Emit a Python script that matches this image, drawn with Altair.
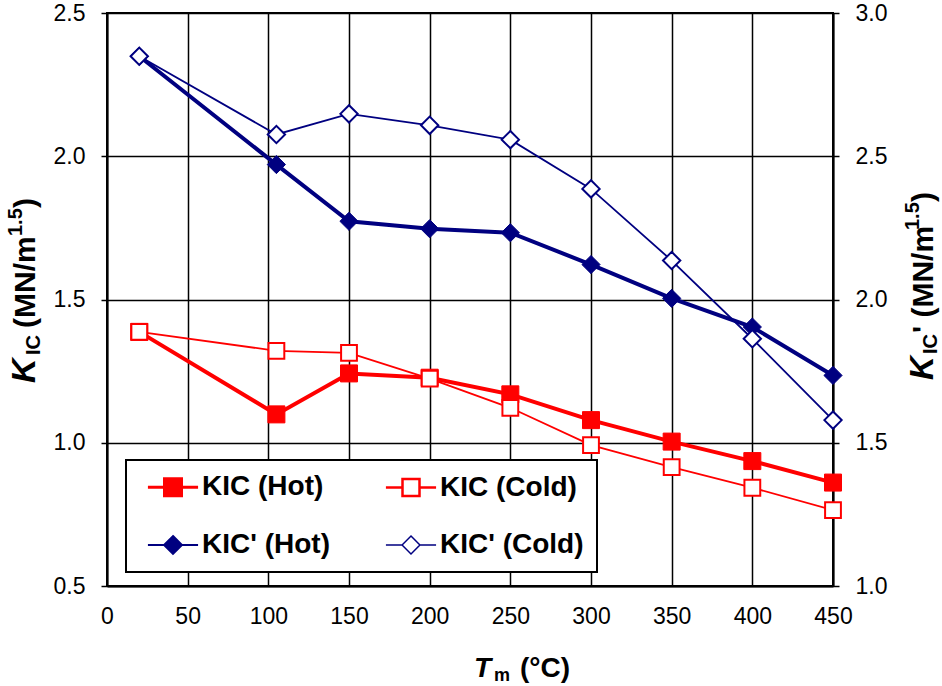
import altair as alt
import pandas as pd

# ---- data ----
temps = [20, 105, 150, 200, 250, 300, 350, 400, 450]
kic_hot = [1.387, 1.099, 1.242, 1.227, 1.169, 1.079, 1.004, 0.936, 0.861]
kic_cold = [1.387, 1.321, 1.314, 1.224, 1.122, 0.992, 0.915, 0.843, 0.765]
kicp_hot = [2.849, 2.471, 2.273, 2.247, 2.233, 2.122, 2.004, 1.904, 1.735]
kicp_cold = [2.849, 2.576, 2.648, 2.608, 2.558, 2.386, 2.136, 1.863, 1.579]

series_names = ["KIC (Hot)", "KIC (Cold)", "KIC' (Hot)", "KIC' (Cold)"]
x_ticks = [0, 50, 100, 150, 200, 250, 300, 350, 400, 450]
left_ticks = [0.5, 1.0, 1.5, 2.0, 2.5]
right_ticks = [1.0, 1.5, 2.0, 2.5, 3.0]

RED = "#FF0000"
NAVY = "#000080"
series_stroke = [RED, RED, NAVY, NAVY]
series_fill = [RED, "#FFFFFF", NAVY, "#FFFFFF"]
series_width = [3, 1.5, 3, 1.5]
legend_paths = [
    "M-2.95,0 L2.95,0 M-1,-1 L1,-1 L1,1 L-1,1 Z",
    "M-2.95,0 L-1,0 M1,0 L2.95,0 M-1,-1 L1,-1 L1,1 L-1,1 Z",
    "M-2.95,0 L2.95,0 M0,-1.05 L1.05,0 L0,1.05 L-1.05,0 Z",
    "M-2.95,0 L-1.05,0 M1.05,0 L2.95,0 M0,-1.05 L1.05,0 L0,1.05 L-1.05,0 Z",
]

rows = []
for name, vals in zip(series_names, [kic_hot, kic_cold, kicp_hot, kicp_cold]):
    for t, v in zip(temps, vals):
        rows.append({"T": t, "K": v, "series": name})
df = pd.DataFrame(rows)

FONT = "Liberation Sans"
W, H = 726, 573
OX, OY = 107, 13
TICK_FS = 23

x_enc = alt.X(
    "T:Q",
    scale=alt.Scale(domain=[0, 450], nice=False, zero=False),
    axis=alt.Axis(
        values=x_ticks, format="d", title=None, grid=True, gridColor="black",
        gridWidth=1.5, ticks=False, labelPadding=19, labelFontSize=TICK_FS,
        labelFont=FONT, labelColor="black", domainColor="black", domainWidth=2,
        labelFlush=False, labelOverlap=False,
    ),
)

yl_enc = alt.Y(
    "K:Q",
    scale=alt.Scale(domain=[0.5, 2.5], nice=False, zero=False),
    axis=alt.Axis(
        orient="left", values=left_ticks, format=".1f", title=None, grid=True,
        gridColor="black", gridWidth=1.5, tickSize=6, tickColor="black",
        tickWidth=1.5, labelPadding=16, labelFontSize=TICK_FS, labelFont=FONT,
        labelColor="black", domainColor="black", domainWidth=2,
        labelFlush=False, labelOverlap=False,
    ),
)

yr_enc = alt.Y(
    "K:Q",
    scale=alt.Scale(domain=[1.0, 3.0], nice=False, zero=False),
    axis=alt.Axis(
        orient="right", values=right_ticks, format=".1f", title=None, grid=False,
        tickSize=6, tickColor="black", tickWidth=1.5, labelPadding=16,
        labelFontSize=TICK_FS, labelFont=FONT, labelColor="black",
        domainColor="black", domainWidth=2, labelFlush=False, labelOverlap=False,
    ),
)

base = alt.Chart(df)


def series_layers(names, shape, y_enc):
    lines, pts = [], []
    for name in names:
        i = series_names.index(name)
        hot = "Hot" in name
        sub = base.transform_filter(alt.datum.series == name)
        lines.append(
            sub.mark_line(color=series_stroke[i], strokeWidth=4 if hot else 1.8)
            .encode(x=x_enc, y=y_enc, order="T:Q")
        )
        if shape == "square":
            size = 289 if hot else 250
        else:
            size = 330 if hot else 300
        pts.append(
            sub.mark_point(
                shape=shape, filled=True, fill=series_fill[i], stroke=series_stroke[i],
                strokeWidth=1 if hot else 2, size=size, opacity=1,
            ).encode(x=x_enc, y=y_enc)
        )
    return alt.layer(*lines, *pts)


left = series_layers(["KIC (Hot)", "KIC (Cold)"], "square", yl_enc)
right = series_layers(["KIC' (Hot)", "KIC' (Cold)"], "diamond", yr_enc)

legend_spec = alt.Legend(
    title=None, orient="none", legendX=19, legendY=447, columns=2,
    direction="horizontal",
    symbolSize=289, symbolOffset=20, labelOffset=15, labelFont=FONT,
    labelFontSize=28, labelFontWeight="bold", labelColor="black",
    labelLimit=400, padding=13, rowPadding=29, columnPadding=47,
    strokeColor="black", fillColor="white", cornerRadius=0, symbolOpacity=1,
)

carrier = (
    base.transform_filter("false")
    .mark_point(filled=True, opacity=1)
    .encode(
        shape=alt.Shape("series:N", scale=alt.Scale(domain=series_names, range=legend_paths), legend=legend_spec),
        fill=alt.Fill("series:N", scale=alt.Scale(domain=series_names, range=series_fill), legend=legend_spec),
        stroke=alt.Stroke("series:N", scale=alt.Scale(domain=series_names, range=series_stroke), legend=legend_spec),
        strokeWidth=alt.StrokeWidth("series:N", scale=alt.Scale(domain=series_names, range=series_width), legend=legend_spec),
    )
)


def txt(text, x, y, size, italic=False, angle=0):
    kw = dict(
        text=text, font=FONT, fontSize=size, fontWeight="bold",
        fontStyle="italic" if italic else "normal", align="left",
        baseline="alphabetic", color="black",
    )
    if angle:
        kw["angle"] = angle
    return (
        alt.Chart(alt.InlineData(values=[{}]))
        .mark_text(**kw)
        .encode(x=alt.value(x - OX), y=alt.value(y - OY))
    )


titles = [
    # x axis title
    txt("T", 474, 677, 28, italic=True),
    txt("m", 494, 681, 18),
    txt("(°C)", 520, 677, 28),
    # left axis title
    txt("K", 35, 383, 34, italic=True, angle=270),
    txt("IC", 40, 355, 20, angle=270),
    txt("(MN/m", 35, 328, 30, angle=270),
    txt("1.5", 22, 236, 20, angle=270),
    txt(")", 35, 208, 30, angle=270),
    # right axis title
    txt("K", 933, 380, 33, italic=True, angle=270),
    txt("IC", 937, 354, 20, angle=270),
    txt("' (MN/m", 933, 333, 30, angle=270),
    txt("1.5", 919, 230, 20, angle=270),
    txt(")", 933, 202, 30, angle=270),
]

chart = (
    alt.layer(left, right, carrier, *titles)
    .resolve_scale(y="independent")
    .properties(
        width=W, height=H,
        autosize=alt.AutoSizeParams(type="none"),
        padding={"left": OX, "top": OY, "right": 942 - OX - W, "bottom": 686 - OY - H},
    )
    .configure_view(stroke="black", strokeWidth=2)
    .configure_legend(strokeWidth=2)
)

chart.save("out.html", embed_options={"renderer": "svg", "actions": False})
